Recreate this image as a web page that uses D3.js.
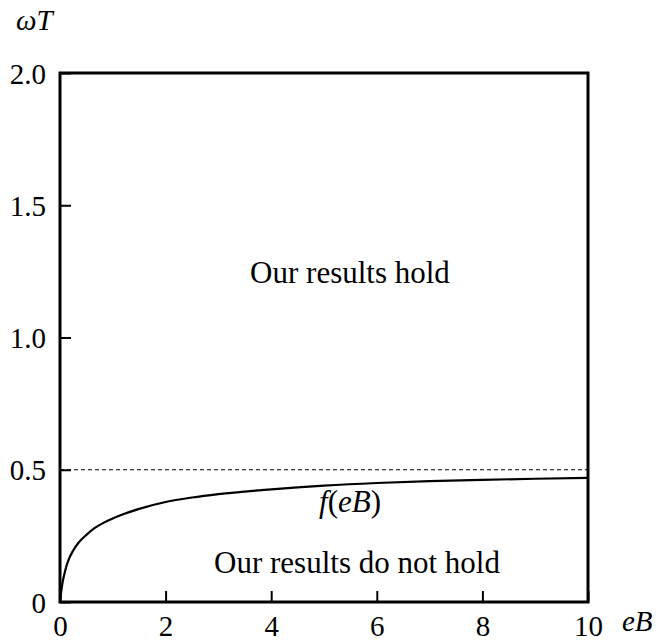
<!DOCTYPE html>
<html>
<head>
<meta charset="utf-8">
<script src="https://cdn.jsdelivr.net/npm/d3@7"></script>
<style>
  body { margin: 0; background: white; }
  svg text { font-family: "Liberation Serif", "Times New Roman", serif; fill: #000; }
</style>
</head>
<body>
<svg id="chart" width="660" height="642"></svg>
<script>
// data
let xTicks = [0, 2, 4, 6, 8, 10];
let yTicks = [0, 0.5, 1.0, 1.5, 2.0];
let yTickLabels = ["0", "0.5", "1.0", "1.5", "2.0"];
let curveX = [0, 0.02, 0.05, 0.1, 0.16, 0.25, 0.35, 0.5, 0.66, 0.85, 1.17, 1.5, 2, 2.5, 3, 4, 5, 6, 7, 8, 9, 10];
let curveY = [0, 0.035, 0.075, 0.12, 0.158, 0.195, 0.224, 0.254, 0.28, 0.302, 0.33, 0.352, 0.378, 0.395, 0.408, 0.426, 0.44, 0.45, 0.457, 0.462, 0.466, 0.469];
let threshold = 0.5;

// layout
let plotLeft = 60, plotRight = 588, plotTop = 73, plotBottom = 602;

let x = d3.scaleLinear().domain([0, 10]).range([plotLeft, plotRight]);
let y = d3.scaleLinear().domain([0, 2]).range([plotBottom, plotTop]);

let svg = d3.select("#chart");

// dashed line at 0.5
svg.append("line")
  .attr("x1", x(0)).attr("x2", x(10))
  .attr("y1", y(threshold)).attr("y2", y(threshold))
  .attr("stroke", "#000")
  .attr("stroke-width", 1.2)
  .attr("stroke-dasharray", "4,3");

// f(eB) curve
let pts = curveX.map((v, i) => [v, curveY[i]]);
svg.append("path")
  .datum(pts)
  .attr("fill", "none")
  .attr("stroke", "#000")
  .attr("stroke-width", 2.2)
  .attr("d", d3.line().x(d => x(d[0])).y(d => y(d[1])).curve(d3.curveMonotoneX));

// axes with inward ticks
let xAxis = svg.append("g")
  .attr("transform", "translate(0," + plotBottom + ")")
  .call(d3.axisBottom(x).tickValues(xTicks).tickSizeInner(-11).tickSizeOuter(0).tickPadding(13).tickFormat(d3.format("d")));
xAxis.select(".domain").remove();
xAxis.selectAll("line").attr("stroke-width", 2);
xAxis.selectAll("text").attr("font-size", 29).attr("dy", "0.71em");

let yAxis = svg.append("g")
  .attr("transform", "translate(" + plotLeft + ",0)")
  .call(d3.axisLeft(y).tickValues(yTicks).tickSizeInner(-11).tickSizeOuter(0).tickPadding(14)
    .tickFormat((d, i) => yTickLabels[i]));
yAxis.select(".domain").remove();
yAxis.selectAll("line").attr("stroke-width", 2);
yAxis.selectAll("text").attr("font-size", 29).attr("dy", "0.35em");

// frame
svg.append("rect")
  .attr("x", plotLeft).attr("y", plotTop)
  .attr("width", plotRight - plotLeft).attr("height", plotBottom - plotTop)
  .attr("fill", "none")
  .attr("stroke", "#000")
  .attr("stroke-width", 3);

// axis titles
svg.append("text").attr("x", 16).attr("y", 30)
  .attr("font-size", 29).attr("font-style", "italic").text("ωT");
svg.append("text").attr("x", 622).attr("y", 631)
  .attr("font-size", 29).attr("font-style", "italic").text("eB");

// annotations
svg.append("text").attr("x", 350).attr("y", 283)
  .attr("text-anchor", "middle").attr("font-size", 31).text("Our results hold");
svg.append("text").attr("x", 357).attr("y", 573)
  .attr("text-anchor", "middle").attr("font-size", 31).text("Our results do not hold");

let fLabel = svg.append("text").attr("x", 350).attr("y", 512)
  .attr("text-anchor", "middle").attr("font-size", 31);
fLabel.append("tspan").attr("font-style", "italic").text("f");
fLabel.append("tspan").text("(");
fLabel.append("tspan").attr("font-style", "italic").text("eB");
fLabel.append("tspan").text(")");
</script>
</body>
</html>
